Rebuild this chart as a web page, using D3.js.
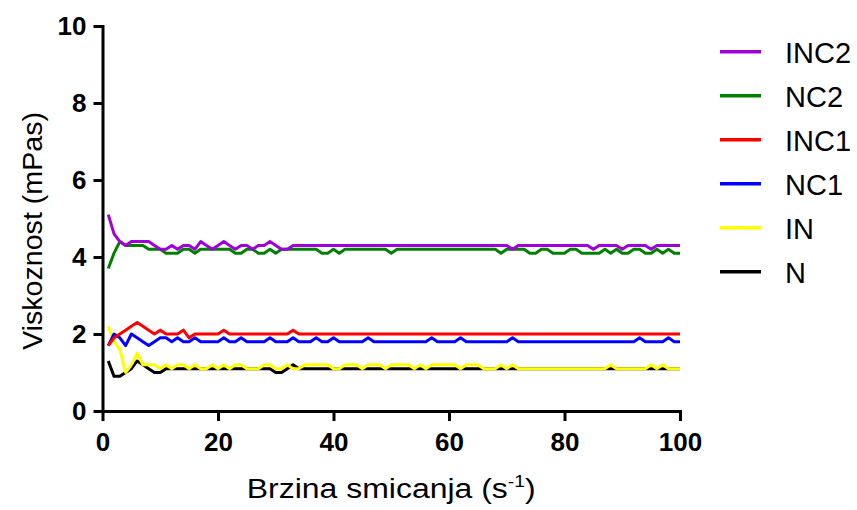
<!DOCTYPE html>
<html>
<head>
<meta charset="utf-8">
<script src="https://cdn.jsdelivr.net/npm/d3@7"></script>
<style>
  html, body { margin: 0; padding: 0; background: #fff; }
  svg { display: block; }
  text { font-family: "Liberation Sans", Arial, sans-serif; }
</style>
</head>
<body>
<svg id="chart" width="857" height="510"></svg>
<script>
// ---- data ----
const shearRate = [
  1,2,3,4,5,6,7,8,9,10, 11,12,13,14,15,16,17,18,19,20,
  21,22,23,24,25,26,27,28,29,30, 31,32,33,34,35,36,37,38,39,40,
  41,42,43,44,45,46,47,48,49,50, 51,52,53,54,55,56,57,58,59,60,
  61,62,63,64,65,66,67,68,69,70, 71,72,73,74,75,76,77,78,79,80,
  81,82,83,84,85,86,87,88,89,90, 91,92,93,94,95,96,97,98,99,100
];
const seriesNames = ["INC2", "NC2", "INC1", "NC1", "IN", "N"];
const seriesColors = ["#a000dc", "#008000", "#ff0000", "#0000ff", "#ffff00", "#000000"];

const INC2 = [
  5.1,4.6,4.4,4.3,4.4,4.4,4.4,4.4,4.3,4.2,
  4.2,4.3,4.2,4.3,4.3,4.2,4.4,4.3,4.2,4.3,
  4.4,4.3,4.2,4.3,4.3,4.2,4.3,4.3,4.4,4.3,
  4.2,4.2,4.3,4.3,4.3,4.3,4.3,4.3,4.3,4.3,
  4.3,4.3,4.3,4.3,4.3,4.3,4.3,4.3,4.3,4.3,
  4.3,4.3,4.3,4.3,4.3,4.3,4.3,4.3,4.3,4.3,
  4.3,4.3,4.3,4.3,4.3,4.3,4.3,4.3,4.3,4.3,
  4.2,4.3,4.3,4.3,4.3,4.3,4.3,4.3,4.3,4.3,
  4.3,4.3,4.3,4.3,4.2,4.3,4.3,4.3,4.3,4.2,
  4.3,4.3,4.3,4.3,4.2,4.3,4.3,4.3,4.3,4.3
];
const NC2 = [
  3.7,4.1,4.4,4.3,4.3,4.3,4.3,4.2,4.2,4.2,
  4.1,4.1,4.1,4.2,4.2,4.1,4.2,4.2,4.2,4.2,
  4.2,4.2,4.1,4.1,4.2,4.2,4.1,4.1,4.2,4.1,
  4.2,4.2,4.2,4.2,4.2,4.2,4.2,4.1,4.1,4.2,
  4.1,4.2,4.2,4.2,4.2,4.2,4.2,4.2,4.2,4.1,
  4.2,4.2,4.2,4.2,4.2,4.2,4.2,4.2,4.2,4.2,
  4.2,4.2,4.2,4.2,4.2,4.2,4.2,4.2,4.1,4.2,
  4.2,4.2,4.2,4.1,4.1,4.2,4.2,4.1,4.1,4.1,
  4.2,4.2,4.1,4.1,4.1,4.1,4.2,4.1,4.2,4.1,
  4.1,4.2,4.2,4.1,4.1,4.2,4.1,4.2,4.1,4.1
];
const INC1 = [
  1.7,1.9,2.0,2.1,2.2,2.3,2.2,2.1,2.0,2.1,
  2.0,2.0,2.0,2.1,1.9,2.0,2.0,2.0,2.0,2.0,
  2.1,2.0,2.0,2.0,2.0,2.0,2.0,2.0,2.0,2.0,
  2.0,2.0,2.1,2.0,2.0,2.0,2.0,2.0,2.0,2.0,
  2.0,2.0,2.0,2.0,2.0,2.0,2.0,2.0,2.0,2.0,
  2.0,2.0,2.0,2.0,2.0,2.0,2.0,2.0,2.0,2.0,
  2.0,2.0,2.0,2.0,2.0,2.0,2.0,2.0,2.0,2.0,
  2.0,2.0,2.0,2.0,2.0,2.0,2.0,2.0,2.0,2.0,
  2.0,2.0,2.0,2.0,2.0,2.0,2.0,2.0,2.0,2.0,
  2.0,2.0,2.0,2.0,2.0,2.0,2.0,2.0,2.0,2.0
];
const NC1 = [
  1.7,2.0,1.9,1.7,2.0,1.9,1.8,1.7,1.8,1.9,
  1.9,1.8,1.9,1.8,1.8,1.9,1.8,1.8,1.8,1.8,
  1.9,1.8,1.8,1.9,1.8,1.8,1.8,1.8,1.9,1.8,
  1.8,1.8,1.9,1.8,1.8,1.8,1.9,1.8,1.8,1.9,
  1.8,1.8,1.8,1.8,1.8,1.9,1.8,1.8,1.8,1.8,
  1.8,1.8,1.8,1.8,1.8,1.8,1.9,1.8,1.8,1.8,
  1.8,1.9,1.8,1.8,1.8,1.8,1.8,1.8,1.8,1.8,
  1.9,1.8,1.8,1.8,1.8,1.8,1.8,1.8,1.8,1.8,
  1.8,1.8,1.8,1.8,1.8,1.8,1.8,1.8,1.8,1.8,
  1.8,1.8,1.9,1.8,1.8,1.8,1.8,1.9,1.8,1.8
];
const IN = [
  2.2,1.8,1.6,1.0,1.2,1.5,1.2,1.2,1.2,1.1,
  1.2,1.1,1.2,1.2,1.1,1.2,1.1,1.1,1.2,1.1,
  1.2,1.1,1.2,1.2,1.1,1.1,1.1,1.2,1.2,1.1,
  1.1,1.2,1.1,1.1,1.2,1.2,1.2,1.2,1.2,1.1,
  1.1,1.2,1.2,1.2,1.1,1.2,1.2,1.2,1.1,1.2,
  1.2,1.2,1.2,1.1,1.2,1.1,1.2,1.2,1.2,1.2,
  1.2,1.1,1.2,1.2,1.2,1.1,1.1,1.1,1.2,1.1,
  1.2,1.1,1.1,1.1,1.1,1.1,1.1,1.1,1.1,1.1,
  1.1,1.1,1.1,1.1,1.1,1.1,1.1,1.2,1.1,1.1,
  1.1,1.1,1.1,1.1,1.2,1.1,1.2,1.1,1.1,1.1
];
const N = [
  1.3,0.9,0.9,1.0,1.1,1.3,1.2,1.1,1.0,1.0,
  1.1,1.1,1.1,1.1,1.1,1.1,1.1,1.1,1.1,1.1,
  1.1,1.1,1.1,1.1,1.1,1.1,1.1,1.1,1.1,1.0,
  1.0,1.1,1.2,1.1,1.1,1.1,1.1,1.1,1.1,1.1,
  1.1,1.1,1.1,1.1,1.1,1.1,1.1,1.1,1.1,1.1,
  1.1,1.1,1.1,1.1,1.1,1.1,1.1,1.1,1.1,1.1,
  1.1,1.1,1.1,1.1,1.1,1.1,1.1,1.1,1.1,1.1,
  1.1,1.1,1.1,1.1,1.1,1.1,1.1,1.1,1.1,1.1,
  1.1,1.1,1.1,1.1,1.1,1.1,1.1,1.1,1.1,1.1,
  1.1,1.1,1.1,1.1,1.1,1.1,1.1,1.1,1.1,1.1
];
const xTicks = [0, 20, 40, 60, 80, 100];
const yTicks = [0, 2, 4, 6, 8, 10];
const xTitle = "Brzina smicanja (s";
const xTitleSup = "-1";
const yTitle = "Viskoznost (mPas)";

// ---- layout ----
const svg = d3.select("#chart");
const plot = { left: 102.5, right: 680, top: 26, bottom: 411 };

const x = d3.scaleLinear().domain([0, 100]).range([plot.left, plot.right]);
const y = d3.scaleLinear().domain([0, 10]).range([plot.bottom, plot.top]);

const seriesData = [INC2, NC2, INC1, NC1, IN, N];

// lines: draw in reverse legend order so INC2 ends on top
const line = d3.line()
  .x((d, i) => x(shearRate[i]))
  .y(d => y(d));

const linesG = svg.append("g");
for (let s = seriesData.length - 1; s >= 0; s--) {
  linesG.append("path")
    .attr("d", line(seriesData[s]))
    .attr("fill", "none")
    .attr("stroke", seriesColors[s])
    .attr("stroke-width", 3)
    .attr("stroke-linejoin", "round");
}

// axes
const xAxis = d3.axisBottom(x).tickValues(xTicks).tickSize(10).tickSizeOuter(0).tickPadding(12);
const yAxis = d3.axisLeft(y).tickValues(yTicks).tickSize(9).tickSizeOuter(0).tickPadding(7);

const gx = svg.append("g").attr("transform", `translate(0,${plot.bottom})`).call(xAxis);
const gy = svg.append("g").attr("transform", `translate(${plot.left},0)`).call(yAxis);

[gx, gy].forEach(g => {
  g.select(".domain").attr("stroke", "#000").attr("stroke-width", 3).attr("stroke-linecap", "square");
  g.selectAll(".tick line").attr("stroke", "#000").attr("stroke-width", 3);
  g.selectAll(".tick text")
    .attr("fill", "#000")
    .style("font-family", '"Liberation Sans", Arial, sans-serif')
    .style("font-size", "26px")
    .style("font-weight", "bold");
});

// x title with superscript
const xt = svg.append("g").attr("transform", `translate(${(plot.left + plot.right) / 2},497.5)`);
const xtText = xt.append("text")
  .attr("text-anchor", "middle")
  .attr("fill", "#000")
  .style("font-size", "28px");
xtText.append("tspan").text(xTitle);
xtText.append("tspan").text(xTitleSup).attr("dy", -11).style("font-size", "17px");
xtText.append("tspan").text(")").attr("dy", 11);
{
  const w = xtText.node().getBBox().width;
  xt.attr("transform", `translate(${(plot.left + plot.right) / 2},497.5) scale(${289 / w},1)`);
}

// y title
const ytG = svg.append("g").attr("transform", "translate(41.5,231) rotate(-90)");
const ytText = ytG.append("text")
  .attr("text-anchor", "middle")
  .attr("fill", "#000")
  .style("font-size", "28.5px")
  .text(yTitle);
{
  const w = ytText.node().getBBox().width;
  ytG.attr("transform", `translate(41.5,231) rotate(-90) scale(${238 / w},1)`);
}

// legend
const legend = svg.append("g");
seriesNames.forEach((name, i) => {
  const ly = 51.7 + i * 44;
  legend.append("line")
    .attr("x1", 720).attr("x2", 761)
    .attr("y1", ly).attr("y2", ly)
    .attr("stroke", seriesColors[i])
    .attr("stroke-width", 3.5);
  legend.append("text")
    .attr("x", 785).attr("y", ly + 11)
    .attr("fill", "#000")
    .style("font-size", "29px")
    .text(name);
});
</script>
</body>
</html>
